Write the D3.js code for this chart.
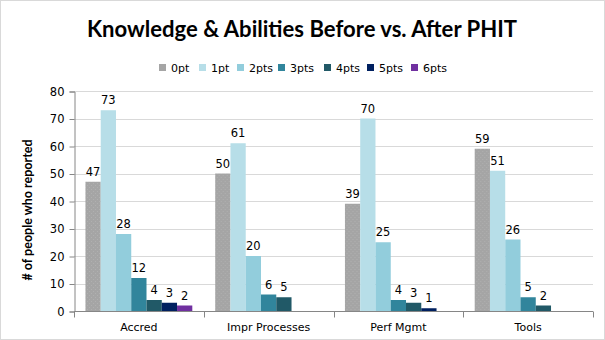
<!DOCTYPE html>
<html>
<head>
<meta charset="utf-8">
<script src="https://cdn.jsdelivr.net/npm/d3@7"></script>
<style>
  body { margin: 0; background: #fff; }
  svg { display: block; }
</style>
</head>
<body>
<div id="chart"></div>
<script>
// chart data
var categories = ["Accred", "Impr Processes", "Perf Mgmt", "Tools"];
var seriesNames = ["0pt", "1pt", "2pts", "3pts", "4pts", "5pts", "6pts"];
var pts0 = [47, 50, 39, 59];
var pts1 = [73, 61, 70, 51];
var pts2 = [28, 20, 25, 26];
var pts3 = [12, 6, 4, 5];
var pts4 = [4, 5, 3, 2];
var pts5 = [3, null, 1, null];
var pts6 = [2, null, null, null];
var yTicks = [0, 10, 20, 30, 40, 50, 60, 70, 80];

var seriesValues = [pts0, pts1, pts2, pts3, pts4, pts5, pts6];
var colors = ["url(#dots)", "#b7dee8", "#92cddc", "#31859c", "#215967", "#002060", "#7030a0"];
var swatch = ["#a5a5a5", "#b7dee8", "#92cddc", "#31859c", "#215967", "#002060", "#7030a0"];

var width = 605, height = 340;
var plotLeft = 74, plotRight = 593, plotTop = 91, plotBottom = 311;
var tickFont = "'DejaVu Sans', Verdana, sans-serif";

var svg = d3.select("#chart").append("svg")
    .attr("width", width)
    .attr("height", height);

// faint dotted fill for the 0pt bars
var pat = svg.append("defs").append("pattern")
    .attr("id", "dots")
    .attr("width", 4).attr("height", 4)
    .attr("patternUnits", "userSpaceOnUse");
pat.append("rect").attr("width", 4).attr("height", 4).attr("fill", "#a5a5a5");
pat.append("rect").attr("x", 1).attr("y", 1).attr("width", 1).attr("height", 1).attr("fill", "#b0b0b0");
pat.append("rect").attr("x", 3).attr("y", 3).attr("width", 1).attr("height", 1).attr("fill", "#b0b0b0");

// outer border
svg.append("rect")
    .attr("x", 0.5).attr("y", 0.5)
    .attr("width", width - 1).attr("height", height - 1)
    .attr("fill", "#fff")
    .attr("stroke", "#d9d9d9");

// title, fitted to its width
var title = svg.append("text")
    .attr("x", 302).attr("y", 37)
    .attr("text-anchor", "middle")
    .style("font-family", "Lato, 'Open Sans', sans-serif")
    .style("font-weight", "bold")
    .style("font-size", "23px")
    .attr("fill", "#000")
    .text("Knowledge & Abilities Before vs. After PHIT");
var tw = title.node().getComputedTextLength();
title.style("font-size", (23 * 430 / tw).toFixed(2) + "px");

var x0 = d3.scaleBand().domain(categories).range([plotLeft, plotRight]);
var x1 = d3.scaleBand().domain(seriesNames)
    .range([0, x0.bandwidth()])
    .paddingOuter(0.75).paddingInner(0);
var y = d3.scaleLinear().domain([0, 80]).range([plotBottom, plotTop]);

// gridlines
svg.append("g").selectAll("line")
    .data(yTicks.slice(1))
    .enter().append("line")
    .attr("x1", plotLeft).attr("x2", plotRight)
    .attr("y1", function(d) { return Math.round(y(d)) + 0.5; })
    .attr("y2", function(d) { return Math.round(y(d)) + 0.5; })
    .attr("stroke", "#d9d9d9");

// y axis
var yAxis = svg.append("g")
    .attr("transform", "translate(" + (plotLeft + 0.5) + ",0.5)")
    .call(d3.axisLeft(y).tickValues(yTicks).tickSize(5).tickPadding(5));
yAxis.select(".domain").attr("stroke", "#868686");
yAxis.selectAll(".tick line").attr("stroke", "#868686");
yAxis.selectAll("text")
    .style("font-family", tickFont)
    .style("font-size", "11.5px")
    .attr("fill", "#000");

// x axis
var xAxis = svg.append("g")
    .attr("transform", "translate(0," + (plotBottom + 0.5) + ")")
    .call(d3.axisBottom(x0).tickSize(0).tickPadding(12));
xAxis.select(".domain").attr("stroke", "#868686").attr("d", "M" + plotLeft + ",0H" + plotRight);
xAxis.selectAll("text")
    .style("font-family", tickFont)
    .style("font-size", "11px")
    .attr("fill", "#000");
// ticks at the category boundaries
xAxis.append("g").selectAll("line")
    .data(categories.concat(["end"]))
    .enter().append("line")
    .attr("x1", function(d, i) { return Math.round(plotLeft + i * x0.step()) + 0.5; })
    .attr("x2", function(d, i) { return Math.round(plotLeft + i * x0.step()) + 0.5; })
    .attr("y1", 0).attr("y2", 6)
    .attr("stroke", "#868686");

// bars
var groups = svg.append("g").selectAll("g")
    .data(categories)
    .enter().append("g")
    .attr("transform", function(d) { return "translate(" + x0(d) + ",0)"; });

var cells = groups.selectAll("g")
    .data(function(c, ci) {
        return seriesNames.map(function(s, si) {
            return { series: s, si: si, value: seriesValues[si][ci] };
        }).filter(function(d) { return d.value != null; });
    })
    .enter().append("g");

cells.append("rect")
    .attr("x", function(d) { return x1(d.series); })
    .attr("width", x1.bandwidth())
    .attr("y", function(d) { return y(d.value); })
    .attr("height", function(d) { return y(0) - y(d.value); })
    .attr("fill", function(d) { return colors[d.si]; });

cells.append("text")
    .attr("x", function(d) { return x1(d.series) + x1.bandwidth() / 2; })
    .attr("y", function(d) { return y(d.value) - 6; })
    .attr("text-anchor", "middle")
    .style("font-family", tickFont)
    .style("font-size", "11.5px")
    .attr("fill", "#000")
    .text(function(d) { return d.value; });

// y axis title
svg.append("text")
    .attr("transform", "translate(32,210) rotate(-90)")
    .attr("text-anchor", "middle")
    .style("font-family", "Lato, 'Open Sans', sans-serif")
    .style("font-weight", "bold")
    .style("font-size", "12.5px")
    .attr("fill", "#000")
    .text("# of people who reported");

// legend
var legendX = [159, 199, 237, 278, 324, 367, 411];
var legend = svg.append("g").selectAll("g")
    .data(seriesNames)
    .enter().append("g")
    .attr("transform", function(d, i) { return "translate(" + legendX[i] + ",64)"; });
legend.append("rect")
    .attr("width", 7).attr("height", 7)
    .attr("fill", function(d, i) { return swatch[i]; });
legend.append("text")
    .attr("x", 12).attr("y", 7.5)
    .style("font-family", tickFont)
    .style("font-size", "11px")
    .attr("fill", "#000")
    .text(function(d) { return d; });
</script>
</body>
</html>
